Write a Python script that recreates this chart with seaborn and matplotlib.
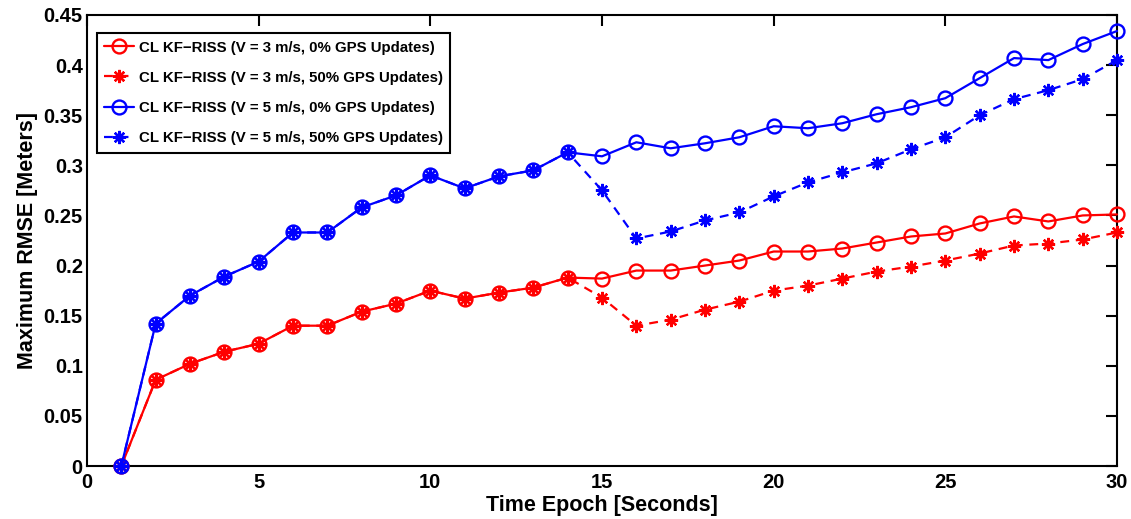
import numpy as np
import pandas as pd
import matplotlib
matplotlib.use("Agg")
import matplotlib.pyplot as plt
import seaborn as sns

# Time epochs (seconds)
epochs = list(range(1, 31))

# Maximum RMSE (m), V = 3 m/s
rmse_v3_gps0 = [0.000, 0.086, 0.102, 0.114, 0.122, 0.140, 0.140, 0.154, 0.162, 0.175,
                0.167, 0.173, 0.178, 0.188, 0.187, 0.195, 0.195, 0.200, 0.205, 0.214,
                0.214, 0.217, 0.223, 0.229, 0.232, 0.242, 0.249, 0.244, 0.250, 0.251]
rmse_v3_gps50 = [0.000, 0.086, 0.102, 0.114, 0.122, 0.140, 0.140, 0.154, 0.162, 0.175,
                 0.167, 0.173, 0.178, 0.188, 0.168, 0.140, 0.146, 0.156, 0.164, 0.175,
                 0.180, 0.187, 0.194, 0.199, 0.205, 0.212, 0.220, 0.222, 0.226, 0.233]

# Maximum RMSE (m), V = 5 m/s
rmse_v5_gps0 = [0.000, 0.142, 0.170, 0.189, 0.204, 0.233, 0.233, 0.258, 0.270, 0.290,
                0.277, 0.289, 0.295, 0.313, 0.309, 0.323, 0.317, 0.322, 0.328, 0.339,
                0.337, 0.342, 0.351, 0.358, 0.367, 0.387, 0.407, 0.405, 0.421, 0.434]
rmse_v5_gps50 = [0.000, 0.142, 0.170, 0.189, 0.204, 0.233, 0.233, 0.258, 0.270, 0.290,
                 0.277, 0.289, 0.295, 0.313, 0.275, 0.227, 0.234, 0.245, 0.253, 0.269,
                 0.283, 0.293, 0.302, 0.316, 0.328, 0.350, 0.366, 0.375, 0.386, 0.405]

series_labels = [
    "CL KF\u2212RISS (V = 3 m/s, 0% GPS Updates)",
    "CL KF\u2212RISS (V = 3 m/s, 50% GPS Updates)",
    "CL KF\u2212RISS (V = 5 m/s, 0% GPS Updates)",
    "CL KF\u2212RISS (V = 5 m/s, 50% GPS Updates)",
]

x_ticks = [0, 5, 10, 15, 20, 25, 30]
y_ticks = [0, 0.05, 0.1, 0.15, 0.2, 0.25, 0.3, 0.35, 0.4, 0.45]

sns.set_style("white")
plt.rcParams["font.family"] = ["Liberation Sans", "DejaVu Sans"]
plt.rcParams["font.weight"] = "bold"
plt.rcParams["text.color"] = "black"
plt.rcParams["axes.labelcolor"] = "black"

df = pd.DataFrame({
    "epoch": epochs * 4,
    "rmse": rmse_v3_gps0 + rmse_v3_gps50 + rmse_v5_gps0 + rmse_v5_gps50,
    "series": sum([[lab] * len(epochs) for lab in series_labels], []),
})

fig = plt.figure(figsize=(11.31, 5.19), dpi=100)
ax = fig.add_axes([87 / 1131, 1 - 466 / 519, 1030 / 1131, 451 / 519])

RED, BLUE = "#ff0000", "#0000ff"
asterisk = (8, 2, 0)
styles = [
    dict(color=RED, markeredgecolor=RED, linestyle="-", marker="o",
         markersize=10, markerfacecolor="none"),
    dict(color=RED, markeredgecolor=RED, linestyle=(0, (4, 3)), marker=asterisk,
         markersize=9.5),
    dict(color=BLUE, markeredgecolor=BLUE, linestyle="-", marker="o",
         markersize=10, markerfacecolor="none"),
    dict(color=BLUE, markeredgecolor=BLUE, linestyle=(0, (4, 3)), marker=asterisk,
         markersize=9.5),
]

for lab, st in zip(series_labels, styles):
    sub = df[df["series"] == lab]
    sns.lineplot(data=sub, x="epoch", y="rmse", ax=ax, label=lab,
                 linewidth=1.6, markeredgewidth=1.7, errorbar=None,
                 clip_on=False, zorder=3, **st)

ax.set_xlim(0, 30)
ax.set_ylim(0, 0.45)
ax.set_xticks(x_ticks)
ax.set_yticks(y_ticks)
ax.set_xticklabels([f"{v:g}" for v in x_ticks])
ax.set_yticklabels([f"{v:g}" for v in y_ticks])
ax.tick_params(axis="both", which="both", direction="in", length=8, width=1.5,
               top=True, right=True, labelsize=14.5, colors="black")
ax.tick_params(axis="x", pad=5)
ax.tick_params(axis="y", pad=3)
for lbl in ax.get_xticklabels() + ax.get_yticklabels():
    lbl.set_fontweight("bold")
for sp in ax.spines.values():
    sp.set_visible(True)
    sp.set_linewidth(1.5)
    sp.set_color("black")

ax.set_xlabel("Time Epoch [Seconds]", fontsize=15.5, fontweight="bold",
              color="black", labelpad=2)
ax.set_ylabel("Maximum RMSE [Meters]", fontsize=15.5, fontweight="bold",
              color="black", labelpad=4)

leg = ax.legend(loc="upper left", bbox_to_anchor=(0.0097, 0.960), borderaxespad=0,
                frameon=True, fancybox=False, framealpha=1,
                edgecolor="black", handlelength=2.0, handletextpad=0.3,
                labelspacing=1.08, borderpad=0.5,
                prop={"weight": "bold", "size": 10.8})
leg.get_frame().set_linewidth(1.5)
for txt in leg.get_texts():
    txt.set_color("black")

fig.savefig("out.png", dpi=100)
